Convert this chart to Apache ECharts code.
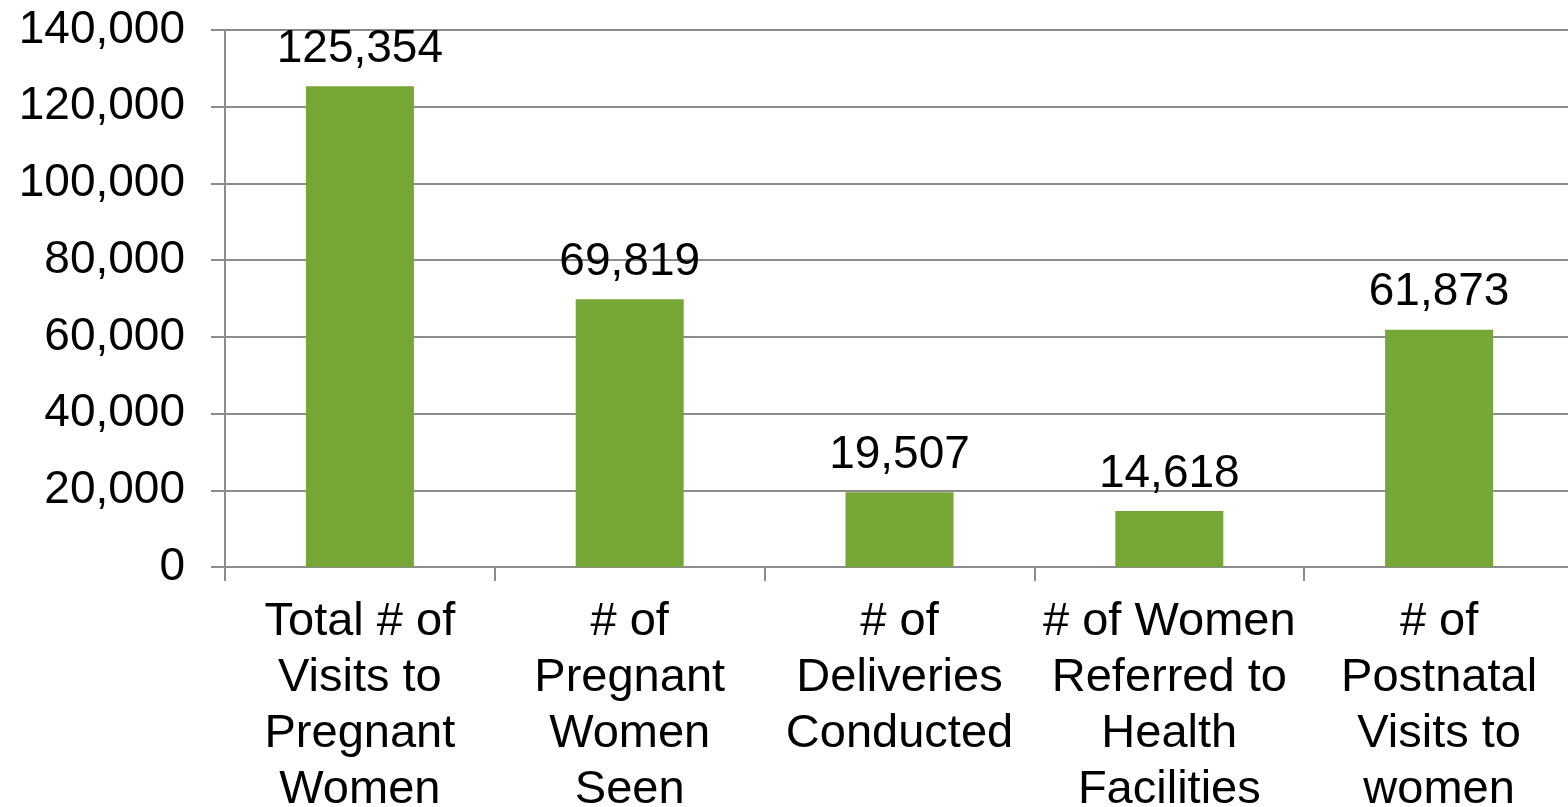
<!DOCTYPE html>
<html>
<head>
<meta charset="utf-8">
<script src="https://cdn.jsdelivr.net/npm/echarts@6/dist/echarts.min.js"></script>
<style>
html,body{margin:0;padding:0;background:#fff;}
#chart{width:1568px;height:807px;}
</style>
</head>
<body>
<div id="chart"></div>
<script>
const categories = [
  "Total # of\nVisits to\nPregnant\nWomen",
  "# of\nPregnant\nWomen\nSeen",
  "# of\nDeliveries\nConducted",
  "# of Women\nReferred to\nHealth\nFacilities",
  "# of\nPostnatal\nVisits to\nwomen"
];
const values = [125354, 69819, 19507, 14618, 61873];
const yTicks = [0, 20000, 40000, 60000, 80000, 100000, 120000, 140000];

const fmt = v => v.toLocaleString('en-US');
const font = "'Liberation Sans', Arial, sans-serif";
const grey = '#8c8c8c';

const chart = echarts.init(document.getElementById('chart'), null, {renderer:'canvas'});
chart.setOption({
  animation: false,
  backgroundColor: '#ffffff',
  grid: {left: 225, top: 30, width: 1349, height: 537, containLabel: false, outerBoundsMode: 'none'},
  xAxis: {
    type: 'category',
    data: categories,
    axisLine: {show: true, lineStyle: {color: grey, width: 2}},
    axisTick: {show: true, alignWithLabel: false, length: 14, lineStyle: {color: grey, width: 2}},
    axisLabel: {
      interval: 0, color: '#000', fontFamily: font, fontSize: 47,
      lineHeight: 56, margin: 27, align: 'center'
    }
  },
  yAxis: {
    type: 'value',
    min: yTicks[0], max: yTicks[yTicks.length-1], interval: 20000,
    axisLine: {show: true, lineStyle: {color: grey, width: 2}},
    axisTick: {show: true, length: 14, lineStyle: {color: grey, width: 2}},
    splitLine: {show: true, lineStyle: {color: grey, width: 2}},
    axisLabel: {color: '#000', fontFamily: font, fontSize: 46, margin: 40, formatter: fmt}
  },
  series: [{
    type: 'bar',
    data: values,
    barWidth: 108,
    itemStyle: {color: '#76a636'},
    label: {
      show: true, position: 'top', distance: 14,
      color: '#000', fontFamily: font, fontSize: 46,
      formatter: p => fmt(p.value)
    }
  }]
});
</script>
</body>
</html>
